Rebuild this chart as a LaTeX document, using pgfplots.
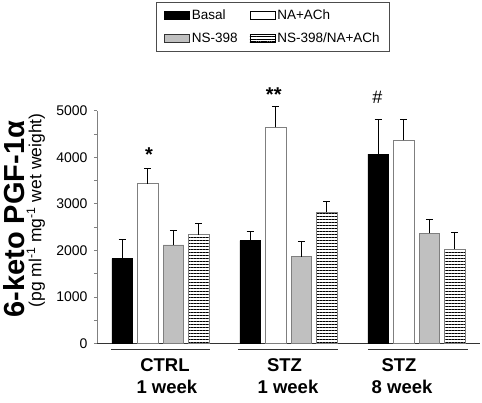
\documentclass[border=0pt]{standalone}
\usepackage{fontspec}
\setmainfont{Liberation Sans}
\usepackage{graphicx}
\usepackage{pgfplots}
\pgfplotsset{compat=1.18}
\usetikzlibrary{patterns.meta}
\definecolor{barGray}{HTML}{C0C0C0}
\definecolor{edgeGray}{HTML}{7F7F7F}
\begin{document}
\begin{tikzpicture}
\useasboundingbox (0pt,0pt) rectangle (482pt,402pt);
\begin{axis}[
  scale only axis,
  width=383pt, height=232.6pt,
  at={(97pt,58.7pt)}, anchor=south west,
  xmin=-0.496, xmax=2.496,
  ymin=0, ymax=5000,
  axis lines*=left,
  x axis line style={draw=black!80, line width=0.8pt},
  y axis line style={draw=gray, line width=0.6pt},
  xtick=\empty,
  ytick={0,1000,2000,3000,4000,5000},
  minor y tick num=1,
  tick align=outside,
  major tick length=3pt, minor tick length=3pt,
  every tick/.style={draw=gray, line width=0.5pt},
  /pgf/number format/assume math mode=true,
  /pgf/number format/set thousands separator={},
  yticklabel style={font=\fontsize{14}{16}\selectfont, xshift=-3pt},
  clip=false,
  ybar, bar width=0.16,
  error bars/y dir=plus, error bars/y explicit,
  error bars/error bar style={black, line width=0.9pt},
  error bars/error mark options={black, line width=0.9pt, mark size=3.5pt, rotate=90},
  legend columns=2,
  legend cell align=left,
  legend style={at={(0.154,1.467)}, anchor=north west, draw=black!70, line width=0.6pt,
    font=\fontsize{13.5}{15}\selectfont, inner xsep=8pt, inner ysep=5pt,
    /tikz/every even column/.append style={column sep=10pt},
    row sep=8pt},
]
\addplot+[bar shift=-0.3, fill=black, draw=black, line width=0.6pt,
  legend image code/.code={\draw[fill=black,draw=black] (0pt,-4pt) rectangle (25pt,4pt);}]
  coordinates {(0,1821) +- (0,415) (1,2206) +- (0,208) (2,4069) +- (0,745)};
\addlegendentry{Basal}
\addplot+[bar shift=-0.1, fill=white, draw=edgeGray, line width=0.8pt,
  legend image code/.code={\draw[fill=white,draw=black,line width=0.6pt] (0pt,-4pt) rectangle (25pt,4pt);}]
  coordinates {(0,3429) +- (0,335) (1,4642) +- (0,458) (2,4362) +- (0,452)};
\addlegendentry{NA+ACh}
\addplot+[bar shift=0.1, fill=barGray, draw=edgeGray, line width=0.8pt,
  legend image code/.code={\draw[fill=barGray,draw=black!80,line width=0.6pt] (0pt,-4pt) rectangle (25pt,4pt);}]
  coordinates {(0,2114) +- (0,315) (1,1862) +- (0,337) (2,2364) +- (0,308)};
\addlegendentry{NS-398}
\addplot+[bar shift=0.3, fill=white, draw=edgeGray, line width=0.8pt,
  postaction={pattern={Lines[angle=0,distance=3pt,line width=0.55pt]}, pattern color=black},
  legend image code/.code={\draw[fill=white,draw=black,line width=0.6pt,postaction={pattern={Lines[angle=0,distance=2.2pt,line width=0.6pt]}, pattern color=black}] (0pt,-4pt) rectangle (25pt,4pt);}]
  coordinates {(0,2336) +- (0,250) (1,2815) +- (0,229) (2,2027) +- (0,358)};
\addlegendentry{NS-398/NA+ACh}

% significance marks
\node[anchor=base, font=\fontsize{20}{22}\selectfont\bfseries] at (axis cs:-0.09,3906) {*};
\node[anchor=base, font=\fontsize{20}{22}\selectfont\bfseries] at (axis cs:0.885,5206) {**};
\node[anchor=base, font=\fontsize{18}{20}\selectfont] at (axis cs:1.695,5165) {\#};

% group underlines and labels
\draw[black!80, line width=0.8pt] (axis cs:-0.387,-122) -- (axis cs:0.387,-122);
\draw[black!80, line width=0.8pt] (axis cs:0.605,-122) -- (axis cs:1.387,-122);
\draw[black!80, line width=0.8pt] (axis cs:1.621,-122) -- (axis cs:2.402,-122);
\node[anchor=base, font=\fontsize{18.5}{22}\selectfont\bfseries] at (axis cs:0.035,-608) {CTRL};
\node[anchor=base, font=\fontsize{18.5}{22}\selectfont\bfseries] at (axis cs:0.050,-1081) {1 week};
\node[anchor=base, font=\fontsize{18.5}{22}\selectfont\bfseries] at (axis cs:0.969,-608) {STZ};
\node[anchor=base, font=\fontsize{18.5}{22}\selectfont\bfseries] at (axis cs:0.996,-1081) {1 week};
\node[anchor=base, font=\fontsize{18.5}{22}\selectfont\bfseries] at (axis cs:1.863,-608) {STZ};
\node[anchor=base, font=\fontsize{18.5}{22}\selectfont\bfseries] at (axis cs:1.887,-1081) {8 week};

% y label
\node[rotate=90, anchor=base, font=\fontsize{29}{31}\selectfont\bfseries] at (rel axis cs:-0.188,0.534) {6-keto PGF-1α};
\node[rotate=90, anchor=base, font=\fontsize{17.5}{19}\selectfont] at (rel axis cs:-0.145,0.571) {(pg ml\textsuperscript{-1} mg\textsuperscript{-1} wet weight)};
\end{axis}
\end{tikzpicture}
\end{document}
